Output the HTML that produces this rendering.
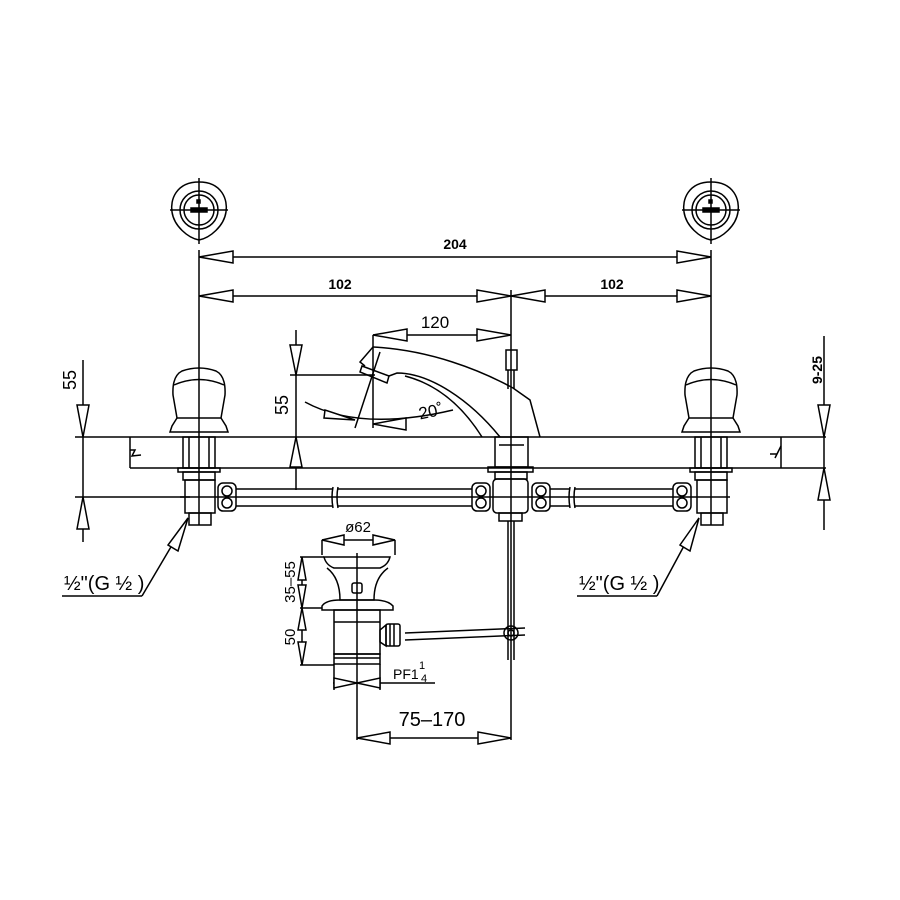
<!DOCTYPE html>
<html><head><meta charset="utf-8"><style>
html,body{margin:0;padding:0;background:#fff}
svg{display:block}
text{font-family:"Liberation Sans",sans-serif;fill:#000}
</style></head><body>
<svg width="900" height="900" viewBox="0 0 900 900" xmlns="http://www.w3.org/2000/svg">
<defs>
<g id="n" stroke="#000" stroke-width="1.5" fill="none"><rect x="0" y="0" width="18" height="28" rx="5"/><circle cx="9" cy="8" r="5"/><circle cx="9" cy="20" r="5"/></g>
</defs>
<g stroke="#000" stroke-width="1.5" fill="none">
<!-- top circles -->
<g id="c1">
<path d="M199,182 C222,182 228,200 226,212 C224,226 210,238 199,240 C188,238 174,226 172,212 C170,200 176,182 199,182Z"/>
<circle cx="199" cy="210" r="19"/><circle cx="199" cy="210" r="15"/>
<line x1="199" y1="178" x2="199" y2="244"/><line x1="170" y1="210" x2="228" y2="210"/>
<rect x="191" y="208" width="16" height="4" fill="#000"/><rect x="197" y="200" width="3" height="3" fill="#000"/>
</g>
<use href="#c1" x="512"/>
<!-- vertical ext lines -->
<line x1="199" y1="250" x2="199" y2="525"/>
<line x1="711" y1="250" x2="711" y2="525"/>
<line x1="511" y1="290" x2="511" y2="740"/>
<!-- dims -->
<line x1="199" y1="257" x2="711" y2="257"/>
<polygon points="199,257 233,251 233,263" fill="#fff"/><polygon points="711,257 677,251 677,263" fill="#fff"/>
<line x1="199" y1="296" x2="711" y2="296"/>
<polygon points="199,296 233,290 233,302" fill="#fff"/><polygon points="511,296 477,290 477,302" fill="#fff"/>
<polygon points="511,296 545,290 545,302" fill="#fff"/><polygon points="711,296 677,290 677,302" fill="#fff"/>
<line x1="373" y1="335" x2="511" y2="335"/>
<polygon points="373,335 407,329 407,341" fill="#fff"/><polygon points="511,335 477,329 477,341" fill="#fff"/>
<!-- counter -->
<line x1="75" y1="437" x2="826" y2="437"/>
<line x1="130" y1="468" x2="826" y2="468"/>
<line x1="130" y1="437" x2="130" y2="468"/>
<polyline points="130,450 135,450 132,456 141,455"/>
<line x1="781" y1="437" x2="781" y2="468"/>
<polyline points="781,446 775,458 777,454 770,454"/>
<!-- left dim 55 -->
<line x1="83" y1="360" x2="83" y2="542"/>
<line x1="75" y1="497" x2="190" y2="497"/>
<polygon points="83,437 77,405 89,405" fill="#fff"/><polygon points="83,497 77,529 89,529" fill="#fff"/>
<!-- right dim 9-25 -->
<line x1="824" y1="336" x2="824" y2="530"/>
<polygon points="824,437 818,405 830,405" fill="#fff"/><polygon points="824,468 818,500 830,500" fill="#fff"/>
<!-- spout dim 55 -->
<line x1="296" y1="330" x2="296" y2="490"/>
<line x1="290" y1="375" x2="375" y2="375"/>
<polygon points="296,375 290,345 302,345" fill="#fff"/><polygon points="296,437 290,467 302,467" fill="#fff"/>
<line x1="373" y1="335" x2="373" y2="428"/>
<line x1="380" y1="352" x2="355" y2="428"/>
<path d="M305,402 Q360,432 453,410"/>
<polygon points="355,420 325,410 324,418" fill="#fff"/>
<polygon points="373,424 406,418 406,430" fill="#fff"/>
<!-- spout -->
<path d="M373,347 C430,350 480,370 513,388 L530,400 L540,437"/>
<path d="M373,347 L360,362 L365,366"/>
<polygon points="362,366 389,376 387,383 360,372"/>
<path d="M389,376 L397,373 C430,373 470,400 500,437"/>
<path d="M405,376 C440,385 465,410 482,437"/>
<rect x="506" y="350" width="11" height="20"/>
<line x1="508" y1="370" x2="508" y2="389"/><line x1="514" y1="370" x2="514" y2="389"/>
<!-- handles -->
<g id="h1">
<path d="M182,371 Q199,365 216,371 Q226,376 225,395 L221,418 L177,418 L173,395 Q172,376 182,371Z"/>
<path d="M174,385 Q199,374 224,385"/>
<path d="M177,418 L172,426 L170,432 L228,432 L226,426 L221,418"/>
<rect x="183" y="437" width="32" height="31"/>
<line x1="189" y1="437" x2="189" y2="468"/><line x1="209" y1="437" x2="209" y2="468"/>
<rect x="178" y="468" width="42" height="4"/>
<rect x="183" y="472" width="32" height="8"/>
<rect x="185" y="480" width="30" height="33"/>
<rect x="189" y="513" width="22" height="12"/>
</g>
<use href="#h1" x="512"/>
<!-- center column -->
<rect x="495" y="437" width="33" height="30"/>
<line x1="499" y1="445" x2="524" y2="445"/>
<rect x="488" y="467" width="45" height="5"/>
<rect x="495" y="472" width="32" height="7"/>
<rect x="493" y="479" width="35" height="34" rx="4"/>
<rect x="499" y="513" width="23" height="8"/>
<!-- pipes -->
<line x1="236" y1="489" x2="333" y2="489"/><line x1="236" y1="506" x2="333" y2="506"/>
<line x1="338" y1="489" x2="472" y2="489"/><line x1="338" y1="506" x2="472" y2="506"/>
<line x1="550" y1="489" x2="570" y2="489"/><line x1="550" y1="506" x2="570" y2="506"/>
<line x1="575" y1="489" x2="673" y2="489"/><line x1="575" y1="506" x2="673" y2="506"/>
<path d="M333,487 Q331,497 333,508 M338,487 Q336,497 338,508 M570,487 Q568,497 570,508 M575,487 Q573,497 575,508"/>
<line x1="180" y1="497" x2="730" y2="497"/>
<!-- rod -->
<line x1="508" y1="521" x2="508" y2="660"/><line x1="514" y1="521" x2="514" y2="660"/>
<circle cx="511" cy="633" r="7"/><circle cx="511" cy="633" r="3"/>
<line x1="405" y1="633" x2="525" y2="628"/><line x1="405" y1="640" x2="525" y2="635"/>
<!-- drain -->
<line x1="357" y1="553" x2="357" y2="740"/>
<path d="M324,557 L390,557 Q388,565 380,568 L334,568 Q326,565 324,557Z"/>
<path d="M327,568 Q340,578 340,600 L374,600 Q374,578 388,568"/>
<rect x="352" y="583" width="10" height="10" rx="2"/>
<path d="M322,606 Q326,600 340,600 L374,600 Q388,600 393,606 L393,610 L322,610Z"/>
<rect x="334" y="610" width="46" height="44"/>
<line x1="334" y1="622" x2="380" y2="622"/>
<rect x="334" y="654" width="46" height="10"/>
<line x1="334" y1="658" x2="380" y2="658"/>
<path d="M386,625 L380,630 L380,642 L386,646Z"/>
<rect x="386" y="624" width="14" height="22" rx="2"/>
<line x1="390" y1="624" x2="390" y2="646"/><line x1="394" y1="624" x2="394" y2="646"/>
<line x1="380" y1="664" x2="380" y2="690"/><line x1="334" y1="664" x2="334" y2="690"/>
<!-- drain dims -->
<line x1="322" y1="540" x2="322" y2="555"/><line x1="395" y1="540" x2="395" y2="555"/>
<line x1="322" y1="540" x2="395" y2="540"/>
<polygon points="322,540 344,535 344,545" fill="#fff"/><polygon points="395,540 373,535 373,545" fill="#fff"/>
<line x1="300" y1="557" x2="324" y2="557"/><line x1="300" y1="608" x2="322" y2="608"/><line x1="300" y1="665" x2="334" y2="665"/>
<line x1="302" y1="557" x2="302" y2="665"/>
<polygon points="302,557 298,580 306,580" fill="#fff"/><polygon points="302,608 298,585 306,585" fill="#fff"/>
<polygon points="302,608 298,630 306,630" fill="#fff"/><polygon points="302,665 298,642 306,642" fill="#fff"/>
<line x1="333" y1="683" x2="435" y2="683"/>
<polygon points="357,683 334,678 334,688" fill="#fff"/><polygon points="357,683 380,678 380,688" fill="#fff"/>
<line x1="357" y1="738" x2="511" y2="738"/>
<polygon points="357,738 390,732 390,744" fill="#fff"/><polygon points="511,738 478,732 478,744" fill="#fff"/>
<!-- leaders -->
<line x1="62" y1="596" x2="142" y2="596"/><line x1="142" y1="596" x2="188" y2="518"/>
<polygon points="188,518 168,545 178,551" fill="#fff"/>
<line x1="577" y1="596" x2="657" y2="596"/><line x1="657" y1="596" x2="699" y2="518"/>
<polygon points="699,518 680,545 690,551" fill="#fff"/>
</g>
<use href="#n" x="218" y="483"/><use href="#n" x="472" y="483"/><use href="#n" x="532" y="483"/><use href="#n" x="673" y="483"/>
<!-- texts -->
<text x="455" y="249" font-size="14" font-weight="bold" text-anchor="middle">204</text>
<text x="340" y="289" font-size="14" font-weight="bold" text-anchor="middle">102</text>
<text x="612" y="289" font-size="14" font-weight="bold" text-anchor="middle">102</text>
<text x="435" y="328" font-size="17" text-anchor="middle">120</text>
<text x="432" y="417" font-size="17" text-anchor="middle" transform="rotate(-12 432 417)">20˚</text>
<text font-size="18" text-anchor="middle" transform="translate(76,380) rotate(-90)">55</text>
<text font-size="18" text-anchor="middle" transform="translate(288,405) rotate(-90)">55</text>
<text font-size="14" font-weight="bold" text-anchor="middle" transform="translate(822,370) rotate(-90)">9-25</text>
<text x="358" y="532" font-size="15" text-anchor="middle">ø62</text>
<text font-size="15" text-anchor="middle" transform="translate(295,582) rotate(-90)">35–55</text>
<text font-size="15" text-anchor="middle" transform="translate(295,637) rotate(-90)">50</text>
<text x="393" y="679" font-size="14">PF1</text>
<text x="419" y="669" font-size="11">1</text><text x="421" y="682" font-size="11">4</text>
<text x="432" y="726" font-size="20" text-anchor="middle">75–170</text>
<text x="64" y="590" font-size="20">½"(G ½ )</text>
<text x="579" y="590" font-size="20">½"(G ½ )</text>
</svg>
</body></html>
